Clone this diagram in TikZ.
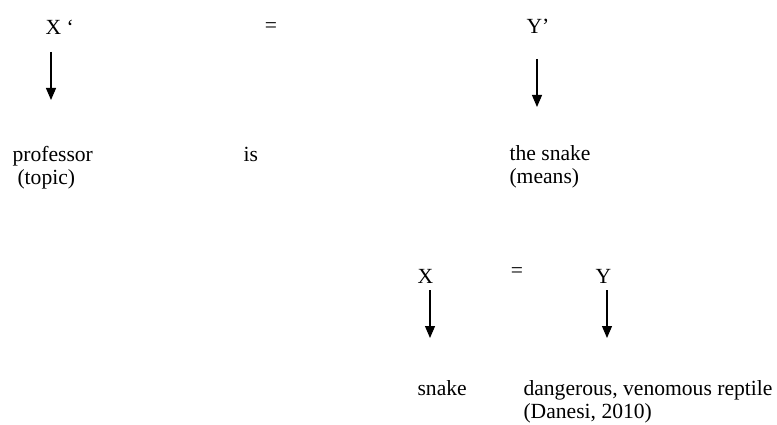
\documentclass[tikz,border=0pt]{standalone}
\usepackage{fontspec}
\setmainfont{Liberation Serif}
\newfontfamily\timesfont{Liberation Serif}
\usetikzlibrary{arrows.meta,positioning}
\tikzset{every picture/.style={line width=1.1pt}}

\begin{document}
\begin{tikzpicture}[
    x=1pt,y=-1pt,
    word/.style={anchor=base west,inner sep=0pt,font=\timesfont\fontsize{21.6}{23}\selectfont},
    eqsign/.style={inner sep=0pt,font=\timesfont\fontsize{21.6}{23}\selectfont},
    maparrow/.style={-{Triangle[length=12pt,width=10pt]}}
]
    \useasboundingbox (0,0) rectangle (777,425);

    % Upper line: X' = Y'
    \node[word] (xprime) at (45,35) {X ‘};
    \node[eqsign] (eqtop) at (271,28) {=};
    \node[word] (yprime) at (526,34) {Y’};

    % Upper arrows
    \coordinate (xprimetip) at (51,100);
    \coordinate (yprimetip) at (537,107);
    \draw[maparrow] ([shift={(6,17)}]xprime.base west) -- (xprimetip);
    \draw[maparrow] ([shift={(11,25)}]yprime.base west) -- (yprimetip);

    % Upper meaning
    \node[word] (prof) at (12,162) {professor};
    \node[word] (topic) at (17,185) {(topic)};
    \node[word] (is) at (243,162) {is};
    \node[word] (thesnake) at (509,161) {the snake};
    \node[word] (means) at (509,184) {(means)};

    % Lower line: X = Y
    \node[word] (xlow) at (417,283) {X};
    \node[eqsign] (eqlow) at (517,273) {=};
    \node[word] (ylow) at (595,283) {Y};

    % Lower arrows
    \coordinate (xlowtip) at (430,338);
    \coordinate (ylowtip) at (607,338);
    \draw[maparrow] ([shift={(13,7)}]xlow.base west) -- (xlowtip);
    \draw[maparrow] ([shift={(12,7)}]ylow.base west) -- (ylowtip);

    % Lower meaning
    \node[word] (snake) at (417,395) {snake};
    \node[word] (reptile) at (523,395) {dangerous, venomous reptile};
    \node[word] (danesi) at (523,418) {(Danesi, 2010)};
\end{tikzpicture}
\end{document}
